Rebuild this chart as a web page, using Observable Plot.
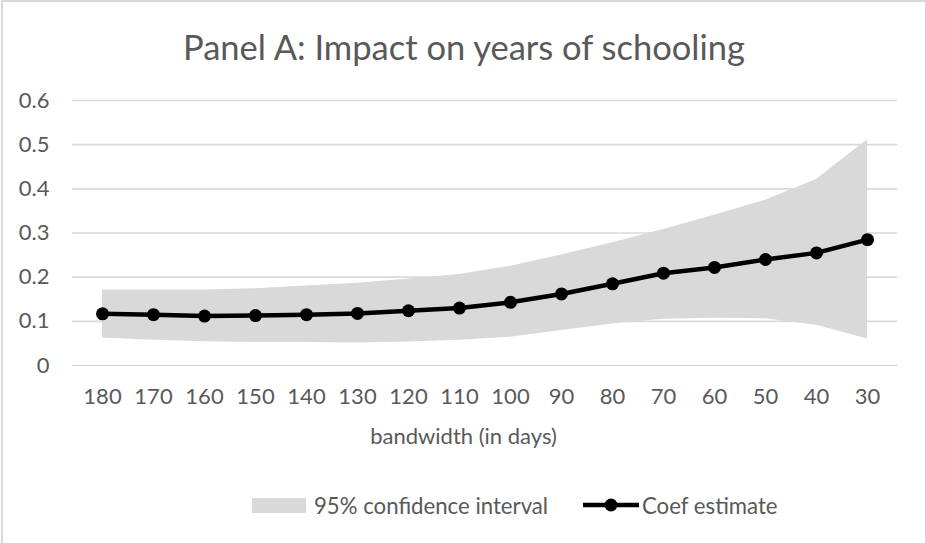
<!DOCTYPE html>
<html>
<head>
<meta charset="utf-8">
<script src="https://cdn.jsdelivr.net/npm/d3@7"></script>
<script src="https://cdn.jsdelivr.net/npm/@observablehq/plot@0.6"></script>
<style>
  html, body { margin: 0; padding: 0; background: #ffffff; }
  #chart { position: relative; width: 925px; height: 543px; overflow: hidden;
           font-family: Lato, "Open Sans", sans-serif; color: #595959; background: #ffffff; }
  #frame { position: absolute; left: 1px; top: 0; width: 940px; height: 560px;
           border-top: 2px solid #d9d9d9; border-left: 2px solid #d9d9d9; pointer-events: none; }
  #title { position: absolute; left: 0; width: 928px; top: 27px; text-align: center;
           font-size: 34.5px; line-height: 40px; white-space: nowrap; }
  #plot { position: absolute; left: 0; top: 80px; }
  .legend-item { position: absolute; top: 490px; height: 30px; display: flex; align-items: center;
                 font-size: 22.2px; white-space: nowrap; }
  .swatch { display: inline-block; width: 54px; height: 15px; background: #d9d9d9; margin-right: 8px; }
</style>
</head>
<body>
<div id="chart">
  <div id="title">Panel A: Impact on years of schooling</div>
  <div id="plot"></div>
  <div class="legend-item" style="left:252px;"><span class="swatch"></span><span>95% confidence interval</span></div>
  <div class="legend-item" style="left:583px;">
    <svg width="57" height="30" style="margin-right:2px;">
      <line x1="0" y1="15" x2="56" y2="15" stroke="#000" stroke-width="4.5"/>
      <circle cx="28" cy="15" r="6.5" fill="#000"/>
    </svg><span>Coef estimate</span>
  </div>
  <div id="frame"></div>
</div>
<script>
// Regression-discontinuity bandwidths, from widest to narrowest
const bandwidths = [180, 170, 160, 150, 140, 130, 120, 110, 100, 90, 80, 70, 60, 50, 40, 30];
// Point estimate of the effect on years of schooling
const coef = [0.117, 0.115, 0.112, 0.113, 0.115, 0.118, 0.124, 0.130, 0.143, 0.162, 0.185, 0.209, 0.222, 0.240, 0.255, 0.285];
// 95% confidence interval bounds
const ciLow  = [0.062, 0.057, 0.054, 0.052, 0.052, 0.051, 0.053, 0.057, 0.064, 0.079, 0.094, 0.105, 0.107, 0.106, 0.091, 0.060];
const ciHigh = [0.171, 0.171, 0.171, 0.174, 0.180, 0.186, 0.196, 0.206, 0.225, 0.250, 0.278, 0.308, 0.340, 0.374, 0.421, 0.511];
const yTicks = [0, 0.1, 0.2, 0.3, 0.4, 0.5, 0.6];
const xTitle = "bandwidth (in days)";

const rows = bandwidths.map((bw, i) => ({bw, coef: coef[i], lo: ciLow[i], hi: ciHigh[i]}));

const chart = Plot.plot({
  width: 925,
  height: 390,
  marginLeft: 72,
  marginRight: 28,
  marginTop: 20,
  marginBottom: 105,
  style: {fontFamily: "Lato, 'Open Sans', sans-serif", fontSize: "22px", color: "#595959", background: "#ffffff"},
  x: {type: "point", domain: bandwidths, padding: 0.5, label: null},
  y: {domain: [0, 0.6], label: null},
  marks: [
    Plot.gridY(yTicks, {stroke: "#d9d9d9", strokeOpacity: 1, strokeWidth: 1.6}),
    Plot.areaY(rows, {x: "bw", y1: "lo", y2: "hi", fill: "#d9d9d9", fillOpacity: 1}),
    Plot.line(rows, {x: "bw", y: "coef", stroke: "#000000", strokeWidth: 4.5, strokeLinejoin: "round"}),
    Plot.dot(rows, {x: "bw", y: "coef", r: 6.5, fill: "#000000", stroke: "none"}),
    Plot.axisY(yTicks, {tickSize: 0, tickPadding: 23, tickFormat: d => d === 0 ? "0" : d.toFixed(1), label: null}),
    Plot.axisX(bandwidths, {tickSize: 0, tickPadding: 23, label: null}),
    Plot.text([xTitle], {frameAnchor: "bottom", dx: -21.5, dy: 78, lineAnchor: "bottom", fill: "#595959", fontSize: 22})
  ]
});
document.getElementById("plot").appendChild(chart);
</script>
</body>
</html>
